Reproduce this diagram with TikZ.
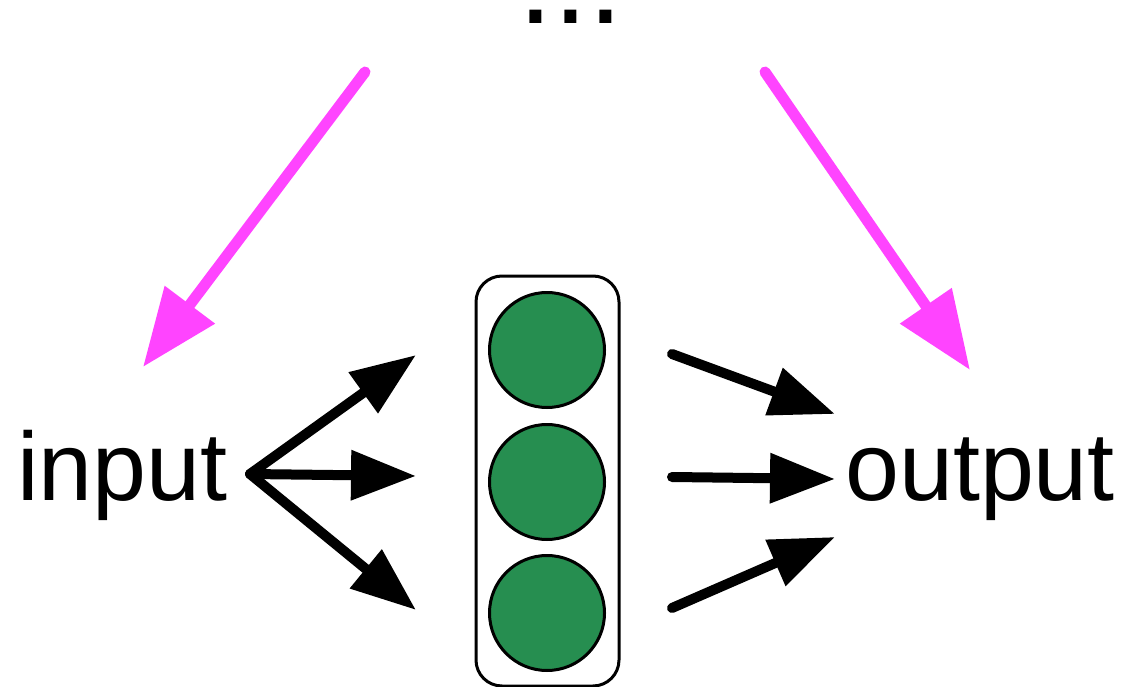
\documentclass[tikz,border=0pt]{standalone}
\usepackage{fontspec}
\setmainfont{Liberation Sans}
\usetikzlibrary{arrows.meta}
\definecolor{pinkarrow}{RGB}{255,68,255}
\definecolor{cellgreen}{RGB}{38,142,80}
\tikzset{
  lbl/.style={inner sep=0pt, anchor=base west, font=\fontsize{97}{110}\selectfont},
  pinkarr/.style={draw=pinkarrow, line width=11pt, line cap=round, -{Triangle[length=78pt,width=60pt]}},
  blackarr/.style={draw=black, line width=10pt, line cap=round, -{Triangle[length=65pt,width=48pt]}},
  cell/.style={circle, draw=black, line width=3pt, fill=cellgreen, minimum size=115pt, inner sep=0pt},
  layer/.style={draw=black, line width=3pt, rounded corners=26pt, fill=white}
}
\begin{document}
\begin{tikzpicture}[x=1pt,y=-1pt]
\useasboundingbox (0,0) rectangle (1127,687);
% dots
\node[inner sep=0pt, anchor=base, font=\fontsize{125}{130}\selectfont] (dots) at (571,24) {...};
% labels
\node[lbl] (input) at (17,500) {input};
\node[lbl] (output) at (845,500) {output};
% layer box
\path[layer] (476,276) rectangle (619,686);
\node[cell] (c1) at (547,350) {};
\node[cell] (c2) at (547,482) {};
\node[cell] (c3) at (547,613) {};
% coordinates
\coordinate (pls) at (365,72);
\coordinate (plt) at (143,367);
\coordinate (prs) at (765,72);
\coordinate (prt) at (970,370);
\coordinate (src) at (250,474);
\coordinate (t1) at (416,355);
\coordinate (t2) at (416,476);
\coordinate (t3) at (416,610);
\coordinate (s1) at (672,354);
\coordinate (s2) at (672,477);
\coordinate (s3) at (672,608);
\coordinate (o1) at (835,414);
\coordinate (o2) at (835,479);
\coordinate (o3) at (835,537);
% pink arrows
\draw[pinkarr] (pls) -- (plt);
\draw[pinkarr] (prs) -- (prt);
% black arrows
\draw[blackarr] (src) -- (t1);
\draw[blackarr] (src) -- (t2);
\draw[blackarr] (src) -- (t3);
\draw[blackarr] (s1) -- (o1);
\draw[blackarr] (s2) -- (o2);
\draw[blackarr] (s3) -- (o3);
\end{tikzpicture}
\end{document}
